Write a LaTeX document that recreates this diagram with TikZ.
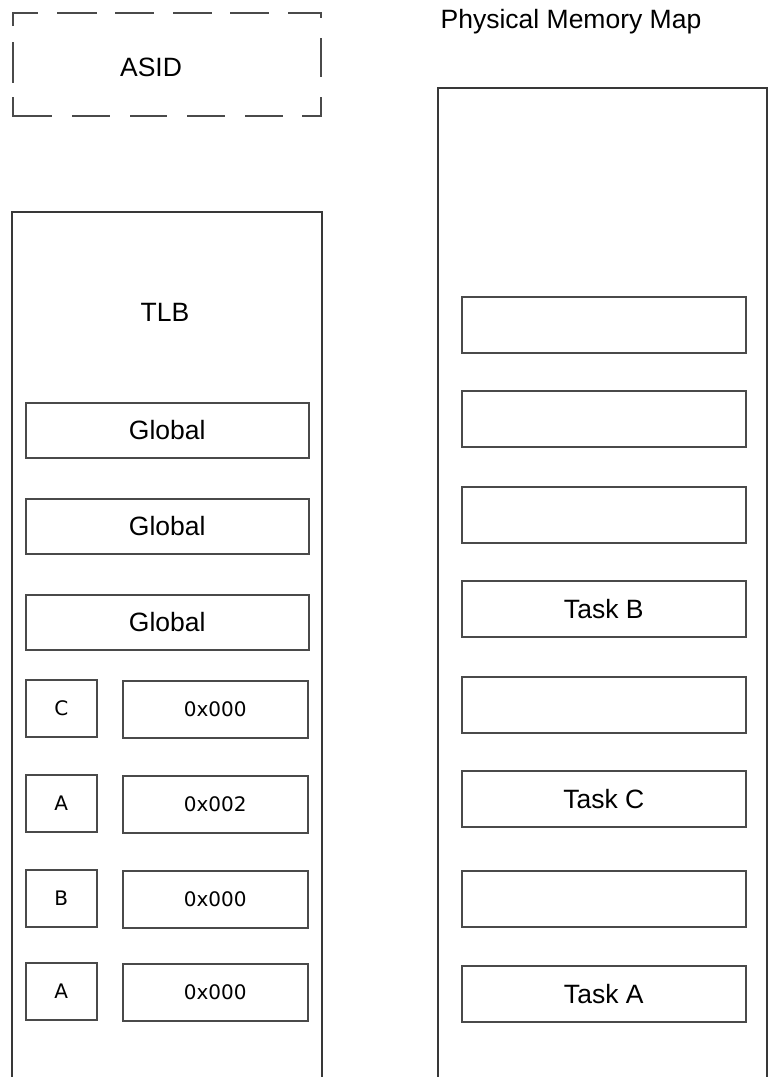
\documentclass[tikz,border=0pt]{standalone}
\usepackage{fontspec}
\setmainfont{Liberation Sans}
\newfontfamily\monofnt{DejaVu Sans}
\definecolor{ln}{HTML}{4A4A4A}
\definecolor{lnd}{HTML}{383838}
\begin{document}
\begin{tikzpicture}[x=1pt,y=-1pt,
  box/.style={draw=ln,line width=1.5pt,rectangle,inner sep=0pt,anchor=north west},
  lbl/.style={font=\fontsize{26.5}{30}\selectfont,inner sep=0pt},
  small/.style={font=\monofnt\fontsize{20}{24}\selectfont,inner sep=0pt},
  dsh/.style={draw=ln,line width=1.5pt}]
\useasboundingbox (0,0) rectangle (769,1077);
% ASID dashed frame
\draw[dsh] (13,26) -- (13,13) -- (38,13);
\draw[dsh] (288,13) -- (321,13) -- (321,18);
\draw[dsh] (321,97) -- (321,116) -- (302,116);
\draw[dsh] (13,97) -- (13,116) -- (52,116);
\draw[dsh] (57,13) -- (97,13) (115,13) -- (154,13) (173,13) -- (212,13) (230,13) -- (269,13);
\draw[dsh] (72,116) -- (110,116) (130,116) -- (167,116) (187,116) -- (225,116) (245,116) -- (283,116);
\draw[dsh] (13,42) -- (13,83) (321,38) -- (321,77);
\node[lbl] (asid) at (151,67) {ASID};
% TLB container
\draw[lnd,line width=1.5pt] (12,1085) -- (12,212) -- (322,212) -- (322,1085);
\node[lbl] (tlb) at (165,312) {TLB};
% Physical container
\draw[lnd,line width=1.5pt] (438,1085) -- (438,88) -- (767,88) -- (767,1085);
\node[lbl] (pmm) at (571,22) {Physical Memory Map};
% Globals
\foreach \y/\n in {402/g1,498/g2,594/g3}{
  \node[box,minimum width=283pt,minimum height=55pt] (\n) at (25,\y) {};
  \node[lbl] at (\n.center) {Global};
}
% ASID entries
\foreach \y/\t/\v/\n in {679/C/0x000/e1,774/A/0x002/e2,869/B/0x000/e3,962/A/0x000/e4}{
  \node[box,minimum width=71pt,minimum height=57pt] (\n a) at (25,\y) {};
  \node[small] at (\n a.center) {\t};
  \node[box,minimum width=185pt,minimum height=57pt] (\n b) at (122,\y+1) {};
  \node[small] at (\n b.center) {\v};
}
% Physical blocks
\foreach \y/\t/\n in {296//p1,390//p2,486//p3,580/Task B/p4,676//p5,770/Task C/p6,870//p7,965/Task A/p8}{
  \node[box,minimum width=284pt,minimum height=56pt] (\n) at (461,\y) {};
  \node[lbl] at (\n.center) {\t};
}
\end{tikzpicture}
\end{document}
